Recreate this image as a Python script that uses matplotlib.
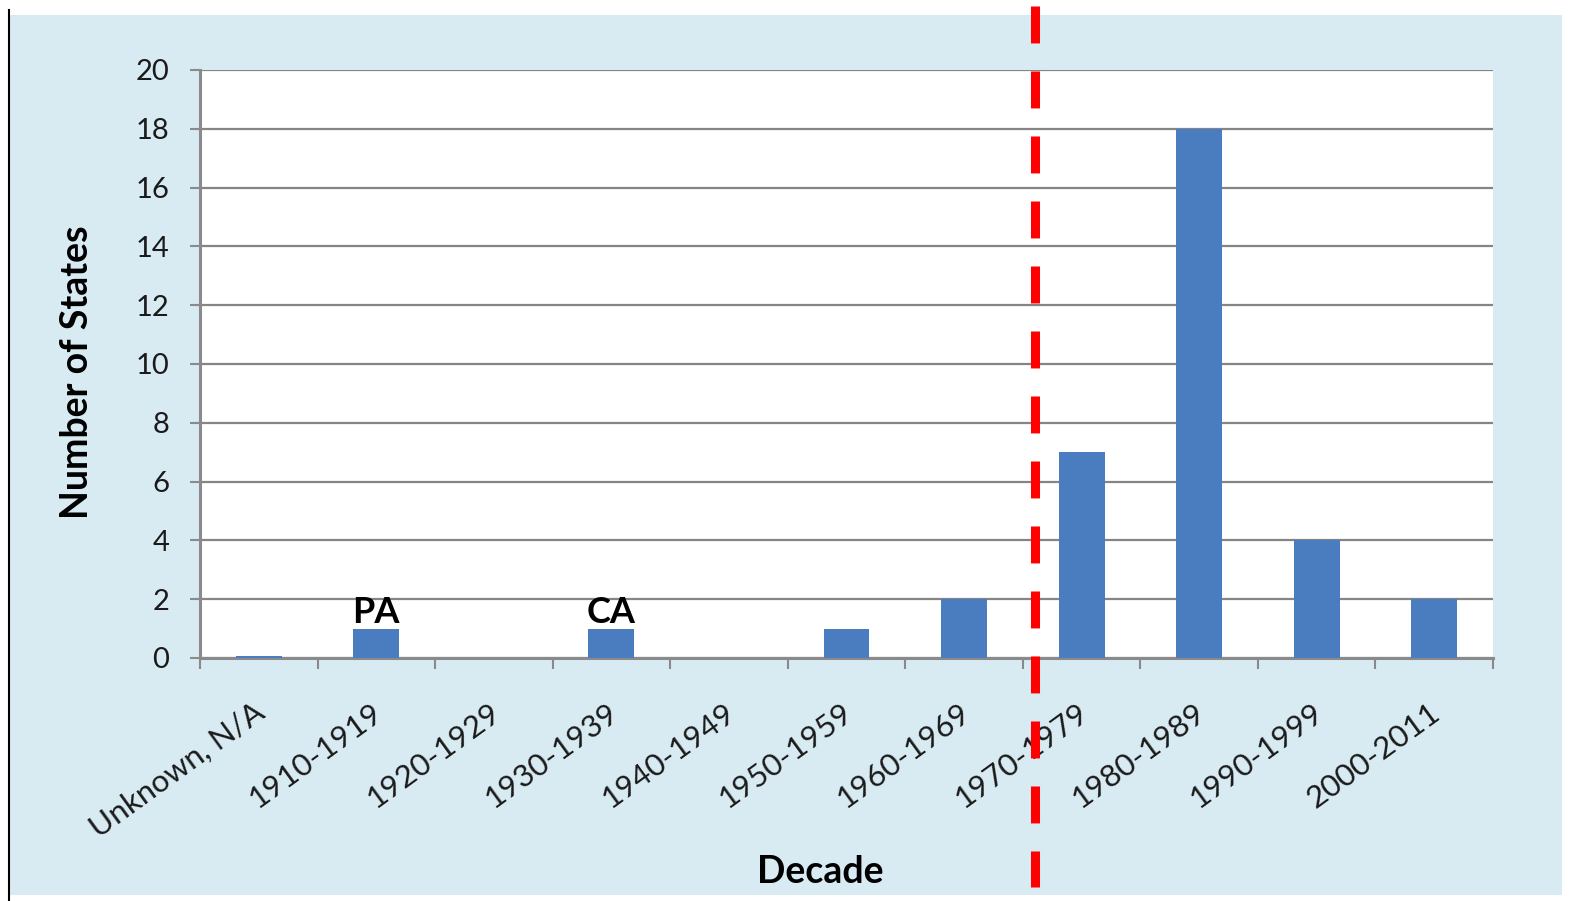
import matplotlib
matplotlib.use("Agg")
import matplotlib.pyplot as plt
from matplotlib.patches import Rectangle
from matplotlib.lines import Line2D
from matplotlib.transforms import blended_transform_factory, Affine2D

plt.rcParams['font.family'] = ['Lato', 'DejaVu Sans']
plt.rcParams['lines.scale_dashes'] = False

# Data
decades = ["Unknown, N/A", "1910-1919", "1920-1929", "1930-1939", "1940-1949",
           "1950-1959", "1960-1969", "1970-1979", "1980-1989", "1990-1999", "2000-2011"]
num_states = [0.07, 1, 0, 1, 0, 1, 2, 7, 18, 4, 2]
state_labels = {"1910-1919": "PA", "1930-1939": "CA"}
y_ticks = [0, 2, 4, 6, 8, 10, 12, 14, 16, 18, 20]
marker_position = 6.6  # dashed divider between decades

W, H = 1574, 901
fig = plt.figure(figsize=(W / 100, H / 100), dpi=100)
fig.patch.set_facecolor("white")

# Light-blue chart panel and left border line
fig.add_artist(Rectangle((10 / W, 6 / H), 1552 / W, 880 / H, transform=fig.transFigure,
                         facecolor="#d8eaf2", edgecolor="none", zorder=0))
fig.add_artist(Line2D([9 / W, 9 / W], [0, 1 - 10 / H], transform=fig.transFigure,
                      color="black", lw=1.5, zorder=1))

left, right = 200 / W, 1493 / W
bottom, top = 1 - 658 / H, 1 - 70 / H
ax = fig.add_axes([left, bottom, right - left, top - bottom])
ax.set_facecolor("white")

x = list(range(len(decades)))
ax.bar(x, num_states, width=0.39, color="#4a7cc0", zorder=3)

ax.set_xlim(-0.5, len(decades) - 0.5)
ax.set_ylim(0, 20)
ax.set_yticks(y_ticks)
ax.yaxis.grid(True, color="#858585", lw=1.6, zorder=1)
ax.set_axisbelow(True)

for s in ["top", "right"]:
    ax.spines[s].set_visible(False)
for s in ["left", "bottom"]:
    ax.spines[s].set_color("#8a8a8a")
    ax.spines[s].set_linewidth(2.2)

ax.tick_params(axis="y", length=7, width=1.5, color="#8a8a8a", labelsize=21,
               labelcolor="#1a1a1a", pad=15)
ax.set_yticklabels([str(v) for v in y_ticks])

ax.set_xticks(x)
ax.set_xticks([i - 0.5 for i in range(len(decades) + 1)], minor=True)
ax.tick_params(axis="x", which="major", length=0, pad=14)
ax.tick_params(axis="x", which="minor", length=8, width=1.5, color="#8a8a8a")
ax.set_xticklabels(decades, rotation=36, ha="right", va="center",
                   rotation_mode="anchor", fontsize=22.5, color="#1a1a1a")
for lbl in ax.get_xticklabels():
    lbl.set_transform(lbl.get_transform() + Affine2D().translate(3, -32))

for i, d in enumerate(decades):
    if d in state_labels:
        ax.annotate(state_labels[d], (i, num_states[i]), xytext=(0, 0),
                    textcoords="offset points", ha="center", va="bottom",
                    fontsize=26, fontweight="bold", color="black", zorder=4)

fig.text(77 / W, 1 - 372 / H, "Number of States", rotation=90, ha="center",
         va="center", fontsize=27, fontweight="bold", color="black")
fig.text(820 / W, 1 - 872 / H, "Decade", ha="center", va="center",
         fontsize=27, fontweight="bold", color="black")

# Red dashed divider spanning the whole chart
tr = blended_transform_factory(ax.transData, fig.transFigure)
ax.plot([marker_position, marker_position], [1 - 6 / H, 1 - 887 / H], transform=tr,
        color="#ff0000", lw=6.5, dashes=(26.6, 20.2), solid_capstyle="butt",
        dash_capstyle="butt", clip_on=False, zorder=10)

fig.savefig("out.png", dpi=100, facecolor=fig.get_facecolor())
